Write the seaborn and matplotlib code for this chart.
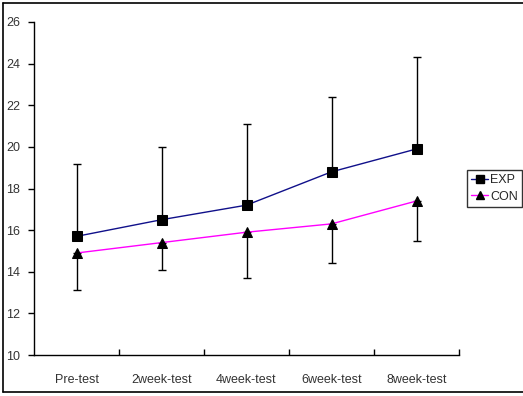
import matplotlib
matplotlib.use("Agg")
import matplotlib.pyplot as plt
import seaborn as sns
import pandas as pd
from matplotlib.lines import Line2D

categories = ["Pre-test", "2week-test", "4week-test", "6week-test", "8week-test"]
exp_mean = [15.7, 16.5, 17.2, 18.8, 19.9]
exp_sd = [3.5, 3.5, 3.9, 3.6, 4.4]
con_mean = [14.9, 15.4, 15.9, 16.3, 17.4]
con_sd = [1.8, 1.3, 2.2, 1.9, 1.9]
y_ticks = [10, 12, 14, 16, 18, 20, 22, 24, 26]

sns.set_theme(style="white")
plt.rcParams["font.family"] = ["Liberation Sans Narrow", "Liberation Sans", "DejaVu Sans"]
plt.rcParams["xtick.bottom"] = True
plt.rcParams["ytick.left"] = True

df = pd.DataFrame({
    "x": list(range(len(categories))) * 2,
    "value": exp_mean + con_mean,
    "group": ["EXP"] * len(categories) + ["CON"] * len(categories),
})

fig = plt.figure(figsize=(5.23, 3.96), dpi=100)
ax = fig.add_axes([34 / 523, 1 - 355 / 396, (459 - 34) / 523, (355 - 22) / 396])

colors = {"EXP": "#10108a", "CON": "#ff00ff"}
sns.lineplot(data=df, x="x", y="value", hue="group", palette=colors,
             markers={"EXP": "s", "CON": "^"}, style="group", dashes=False,
             ax=ax, legend=False, linewidth=1.0, markersize=6.5)
for ln in ax.lines:
    ln.set_markerfacecolor("black")
    ln.set_markeredgecolor("black")
    ln.set_zorder(3)
    if ln.get_marker() == "^":
        ln.set_markersize(7.5)

xs = list(range(len(categories)))
ax.errorbar(xs, exp_mean, yerr=[[0] * 5, exp_sd], fmt="none", ecolor="black",
            elinewidth=1.0, capsize=3, capthick=1.0, zorder=2)
ax.errorbar(xs, con_mean, yerr=[con_sd, [0] * 5], fmt="none", ecolor="black",
            elinewidth=1.0, capsize=3, capthick=1.0, zorder=2)

ax.set_xlim(-0.5, 4.5)
ax.set_ylim(10, 26)
ax.set_yticks(y_ticks)
ax.set_yticklabels([str(t) for t in y_ticks], fontsize=9, color="#333333")
ax.set_xticks(xs)
ax.set_xticklabels(categories, fontsize=9, color="#333333")
ax.tick_params(axis="x", which="major", length=0, pad=14, bottom=True)
ax.set_xticks([0.5, 1.5, 2.5, 3.5, 4.5], minor=True)
ax.tick_params(axis="x", which="minor", direction="in", length=4, width=1, color="black", bottom=True)
ax.tick_params(axis="y", which="major", direction="out", length=4, width=1, color="black", pad=6, left=True)
ax.set_xlabel("")
ax.set_ylabel("")
for side in ["top", "right"]:
    ax.spines[side].set_visible(False)
for side in ["left", "bottom"]:
    ax.spines[side].set_color("black")
    ax.spines[side].set_linewidth(1.0)

# outer frame
fig.add_artist(Line2D([3 / 523, 3 / 523], [1 - 392 / 396, 1 - 3 / 396], transform=fig.transFigure, color="black", lw=1.2))
fig.add_artist(Line2D([3 / 523, 1], [1 - 3 / 396, 1 - 3 / 396], transform=fig.transFigure, color="black", lw=1.2))
fig.add_artist(Line2D([3 / 523, 1], [1 - 392 / 396, 1 - 392 / 396], transform=fig.transFigure, color="black", lw=1.2))

handles = [
    Line2D([], [], color=colors["EXP"], marker="s", markerfacecolor="black", markeredgecolor="black", markersize=5.5, lw=1),
    Line2D([], [], color=colors["CON"], marker="^", markerfacecolor="black", markeredgecolor="black", markersize=6, lw=1),
]
leg = fig.legend(handles, ["EXP", "CON"], loc="upper left",
                 bbox_to_anchor=(467 / 523, 1 - 170 / 396), bbox_transform=fig.transFigure,
                 fontsize=9, frameon=True, fancybox=False, handlelength=1.3,
                 handletextpad=0.2, borderpad=0.35, labelspacing=0.35, borderaxespad=0)
leg.get_frame().set_edgecolor("black")
leg.get_frame().set_linewidth(1.0)

fig.savefig("out.png", dpi=100)
